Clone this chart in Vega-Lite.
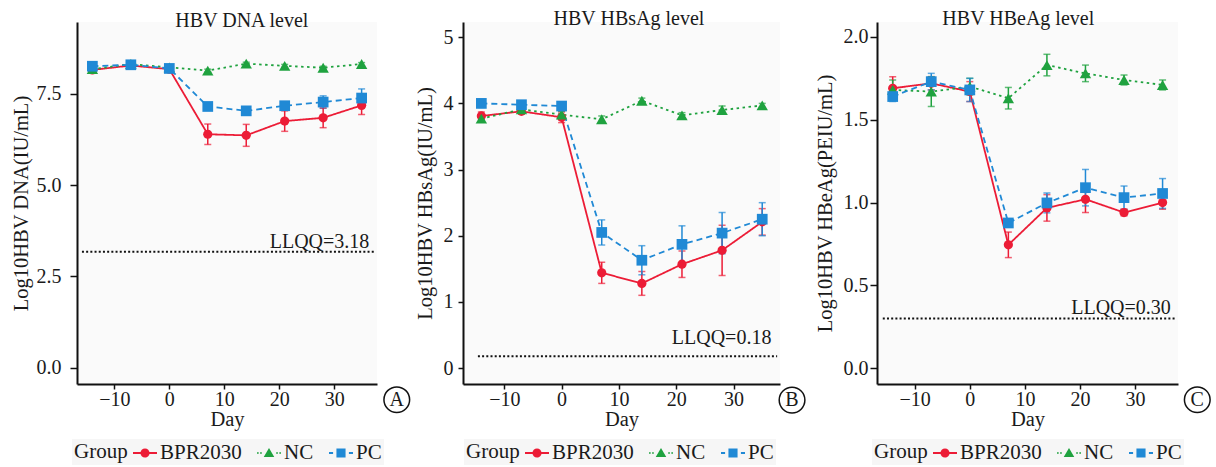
{
  "$schema": "https://vega.github.io/schema/vega-lite/v6.json",
  "padding": {"left": 11, "top": 9, "right": 4, "bottom": 2},
  "background": "white",
  "datasets": {
    "dna": [
      {"Group": "BPR2030", "day": -14, "value": 8.15, "err": 0.06},
      {"Group": "BPR2030", "day": -7, "value": 8.27, "err": 0.05},
      {"Group": "BPR2030", "day": 0, "value": 8.17, "err": 0.06},
      {"Group": "BPR2030", "day": 7, "value": 6.39, "err": 0.28},
      {"Group": "BPR2030", "day": 14, "value": 6.36, "err": 0.3},
      {"Group": "BPR2030", "day": 21, "value": 6.75, "err": 0.28},
      {"Group": "BPR2030", "day": 28, "value": 6.84, "err": 0.27},
      {"Group": "BPR2030", "day": 35, "value": 7.18, "err": 0.25},
      {"Group": "NC", "day": -14, "value": 8.17, "err": 0.05},
      {"Group": "NC", "day": -7, "value": 8.31, "err": 0.05},
      {"Group": "NC", "day": 0, "value": 8.22, "err": 0.05},
      {"Group": "NC", "day": 7, "value": 8.13, "err": 0.04},
      {"Group": "NC", "day": 14, "value": 8.32, "err": 0.04},
      {"Group": "NC", "day": 21, "value": 8.26, "err": 0.04},
      {"Group": "NC", "day": 28, "value": 8.21, "err": 0.04},
      {"Group": "NC", "day": 35, "value": 8.31, "err": 0.04},
      {"Group": "PC", "day": -14, "value": 8.25, "err": 0.06},
      {"Group": "PC", "day": -7, "value": 8.29, "err": 0.05},
      {"Group": "PC", "day": 0, "value": 8.19, "err": 0.06},
      {"Group": "PC", "day": 7, "value": 7.15, "err": 0.05},
      {"Group": "PC", "day": 14, "value": 7.03, "err": 0.05},
      {"Group": "PC", "day": 21, "value": 7.17, "err": 0.06},
      {"Group": "PC", "day": 28, "value": 7.27, "err": 0.17},
      {"Group": "PC", "day": 35, "value": 7.38, "err": 0.25}
    ],
    "hbsag": [
      {"Group": "BPR2030", "day": -14, "value": 3.81, "err": 0.06},
      {"Group": "BPR2030", "day": -7, "value": 3.88, "err": 0.04},
      {"Group": "BPR2030", "day": 0, "value": 3.79, "err": 0.08},
      {"Group": "BPR2030", "day": 7, "value": 1.44, "err": 0.16},
      {"Group": "BPR2030", "day": 14, "value": 1.28, "err": 0.18},
      {"Group": "BPR2030", "day": 21, "value": 1.57, "err": 0.2},
      {"Group": "BPR2030", "day": 28, "value": 1.78, "err": 0.38},
      {"Group": "BPR2030", "day": 35, "value": 2.21, "err": 0.2},
      {"Group": "NC", "day": -14, "value": 3.77, "err": 0.05},
      {"Group": "NC", "day": -7, "value": 3.91, "err": 0.04},
      {"Group": "NC", "day": 0, "value": 3.83, "err": 0.05},
      {"Group": "NC", "day": 7, "value": 3.76, "err": 0.05},
      {"Group": "NC", "day": 14, "value": 4.04, "err": 0.04},
      {"Group": "NC", "day": 21, "value": 3.82, "err": 0.04},
      {"Group": "NC", "day": 28, "value": 3.9, "err": 0.06},
      {"Group": "NC", "day": 35, "value": 3.97, "err": 0.03},
      {"Group": "PC", "day": -14, "value": 4.0, "err": 0.06},
      {"Group": "PC", "day": -7, "value": 3.98, "err": 0.04},
      {"Group": "PC", "day": 0, "value": 3.96, "err": 0.05},
      {"Group": "PC", "day": 7, "value": 2.05, "err": 0.19},
      {"Group": "PC", "day": 14, "value": 1.63, "err": 0.22},
      {"Group": "PC", "day": 21, "value": 1.87, "err": 0.28},
      {"Group": "PC", "day": 28, "value": 2.04, "err": 0.31},
      {"Group": "PC", "day": 35, "value": 2.25, "err": 0.25}
    ],
    "hbeag": [
      {"Group": "BPR2030", "day": -14, "value": 1.69, "err": 0.07},
      {"Group": "BPR2030", "day": -7, "value": 1.72, "err": 0.04},
      {"Group": "BPR2030", "day": 0, "value": 1.67, "err": 0.06},
      {"Group": "BPR2030", "day": 7, "value": 0.745, "err": 0.077},
      {"Group": "BPR2030", "day": 14, "value": 0.968, "err": 0.08},
      {"Group": "BPR2030", "day": 21, "value": 1.02, "err": 0.08},
      {"Group": "BPR2030", "day": 28, "value": 0.94, "err": 0.02},
      {"Group": "BPR2030", "day": 35, "value": 1.0, "err": 0.04},
      {"Group": "NC", "day": -14, "value": 1.68, "err": 0.06},
      {"Group": "NC", "day": -7, "value": 1.67, "err": 0.09},
      {"Group": "NC", "day": 0, "value": 1.7, "err": 0.05},
      {"Group": "NC", "day": 7, "value": 1.63, "err": 0.065},
      {"Group": "NC", "day": 14, "value": 1.83, "err": 0.065},
      {"Group": "NC", "day": 21, "value": 1.78, "err": 0.05},
      {"Group": "NC", "day": 28, "value": 1.74, "err": 0.03},
      {"Group": "NC", "day": 35, "value": 1.71, "err": 0.03},
      {"Group": "PC", "day": -14, "value": 1.64, "err": 0.03},
      {"Group": "PC", "day": -7, "value": 1.73, "err": 0.05},
      {"Group": "PC", "day": 0, "value": 1.68, "err": 0.07},
      {"Group": "PC", "day": 7, "value": 0.877, "err": 0.02},
      {"Group": "PC", "day": 14, "value": 0.998, "err": 0.06},
      {"Group": "PC", "day": 21, "value": 1.09, "err": 0.11},
      {"Group": "PC", "day": 28, "value": 1.03, "err": 0.07},
      {"Group": "PC", "day": 35, "value": 1.055, "err": 0.09}
    ]
  },
  "bounds": "flush",
  "spacing": 86,
  "hconcat": [
    {
      "width": 300, "height": 362,
      "resolve": {"scale": {"shape": "independent", "fill": "independent"}},
      "layer": [
        {"data": {"name": "dna"}, "mark": {"type": "line", "strokeWidth": 1.8},
         "encoding": {
           "x": {"field": "day", "type": "quantitative", "title": "Day", "scale": {"domain": [-16.8, 37.8], "nice": false, "zero": false}, "axis": {"values": [-10, 0, 10, 20, 30]}},
           "y": {"field": "value", "type": "quantitative", "title": "Log10HBV DNA(IU/mL)", "scale": {"domain": [-0.44, 9.46], "nice": false, "zero": false}, "axis": {"values": [0, 2.5, 5, 7.5], "format": ".1f", "titleX": -55.5, "titleY": 181, "tickSize": 7, "labelPadding": 9}},
           "color": {"field": "Group", "type": "nominal", "scale": {"domain": ["BPR2030", "NC", "PC"], "range": ["#EC1C36", "#1FA23F", "#2089D5"]}, "legend": null},
           "strokeDash": {"field": "Group", "type": "nominal", "scale": {"domain": ["BPR2030", "NC", "PC"], "range": [[1, 0], [2.5, 3.5], [6, 4]]}, "legend": null}
         }},
        {"data": {"name": "dna"}, "mark": {"type": "errorbar", "ticks": {"size": 7}, "thickness": 1.5},
         "encoding": {
           "x": {"field": "day", "type": "quantitative", "title": "Day"},
           "y": {"field": "value", "type": "quantitative", "title": "Log10HBV DNA(IU/mL)"},
           "yError": {"field": "err"},
           "color": {"field": "Group", "type": "nominal", "legend": null}
         }},
        {"data": {"name": "dna"}, "mark": {"type": "point", "filled": true, "opacity": 1},
         "encoding": {
           "x": {"field": "day", "type": "quantitative"},
           "y": {"field": "value", "type": "quantitative"},
           "color": {"field": "Group", "type": "nominal", "legend": null},
           "shape": {"field": "Group", "type": "nominal", "scale": {"domain": ["BPR2030", "NC", "PC"], "range": ["circle", "triangle-up", "square"]}, "legend": null},
           "size": {"field": "Group", "type": "nominal", "scale": {"type": "ordinal", "domain": ["BPR2030", "NC", "PC"], "range": [85, 130, 115]}, "legend": null}
         }},
        {"data": {"name": "dna"}, "mark": {"type": "point", "filled": true, "opacity": 0},
         "encoding": {
           "x": {"field": "day", "type": "quantitative"},
           "y": {"field": "value", "type": "quantitative"},
           "fill": {"field": "Group", "type": "nominal", "scale": {"domain": ["BPR2030", "NC", "PC"], "range": ["#EC1C36", "#1FA23F", "#2089D5"]}, "legend": {"title": "Group", "legendX": -5, "legendY": 417}},
           "shape": {"field": "Group", "type": "nominal", "scale": {"domain": ["BPR2030", "NC", "PC"], "range": ["M-1,-0.08H1V0.08H-1Z M0.38,0A0.38,0.38,0,1,1,-0.38,0A0.38,0.38,0,1,1,0.38,0Z", "M-1,-0.07H-0.86V0.07H-1Z M-0.74,-0.07H-0.6V0.07H-0.74Z M0.6,-0.07H0.74V0.07H0.6Z M0.86,-0.07H1V0.07H0.86Z M0,-0.42L0.44,0.34L-0.44,0.34Z", "M-1,-0.08H-0.66V0.08H-1Z M0.66,-0.08H1V0.08H0.66Z M-0.38,-0.38H0.38V0.38H-0.38Z"]}, "legend": {"title": "Group", "legendX": -5, "legendY": 417}}
         }},
        {"data": {"values": [{"lx": -15.9, "lx2": 37.4, "ly": 3.18}]}, "mark": {"type": "rule", "strokeDash": [2, 2.2], "strokeWidth": 2, "color": "#111111"},
         "encoding": {"x": {"field": "lx", "type": "quantitative"}, "x2": {"field": "lx2"}, "y": {"field": "ly", "type": "quantitative"}}},
        {"data": {"values": [{"tx": 36.4, "ty": 3.18, "label": "LLQQ=3.18"}]}, "mark": {"type": "text", "align": "right", "baseline": "alphabetic", "dy": -4, "fontSize": 20, "font": "Liberation Serif", "color": "#1a1a1a"},
         "encoding": {"x": {"field": "tx", "type": "quantitative"}, "y": {"field": "ty", "type": "quantitative"}, "text": {"field": "label"}}},
        {"data": {"values": [{"tx": 13.2, "ty": 9.33, "label": "HBV DNA level"}]}, "mark": {"type": "text", "align": "center", "baseline": "alphabetic", "fontSize": 20, "font": "Liberation Serif", "color": "#1a1a1a"},
         "encoding": {"x": {"field": "tx", "type": "quantitative"}, "y": {"field": "ty", "type": "quantitative"}, "text": {"field": "label"}}},
        {"data": {"values": [{"tx": 41.4, "ty": -0.87, "label": "A"}]}, "mark": {"type": "point", "shape": "circle", "size": 660, "filled": false, "stroke": "#111111", "strokeWidth": 1.5, "opacity": 1},
         "encoding": {"x": {"field": "tx", "type": "quantitative"}, "y": {"field": "ty", "type": "quantitative"}}},
        {"data": {"values": [{"tx": 41.4, "ty": -0.87, "label": "A"}]}, "mark": {"type": "text", "align": "center", "baseline": "middle", "fontSize": 20, "font": "Liberation Serif", "color": "#1a1a1a"},
         "encoding": {"x": {"field": "tx", "type": "quantitative"}, "y": {"field": "ty", "type": "quantitative"}, "text": {"field": "label"}}}
      ]
    },
    {
      "bounds": "flush",
      "spacing": 97,
      "hconcat": [
        {
          "width": 317, "height": 362,
          "resolve": {"scale": {"shape": "independent", "fill": "independent"}},
          "layer": [
            {"data": {"name": "hbsag"}, "mark": {"type": "line", "strokeWidth": 1.8},
             "encoding": {
               "x": {"field": "day", "type": "quantitative", "title": "Day", "scale": {"domain": [-17.2, 38.1], "nice": false, "zero": false}, "axis": {"values": [-10, 0, 10, 20, 30]}},
               "y": {"field": "value", "type": "quantitative", "title": "Log10HBV HBsAg(IU/mL)", "scale": {"domain": [-0.24, 5.23], "nice": false, "zero": false}, "axis": {"values": [0, 1, 2, 3, 4, 5], "format": "d", "titleX": -37.5, "titleY": 181, "tickSize": 5, "labelPadding": 5}},
               "color": {"field": "Group", "type": "nominal", "scale": {"domain": ["BPR2030", "NC", "PC"], "range": ["#EC1C36", "#1FA23F", "#2089D5"]}, "legend": null},
               "strokeDash": {"field": "Group", "type": "nominal", "scale": {"domain": ["BPR2030", "NC", "PC"], "range": [[1, 0], [2.5, 3.5], [6, 4]]}, "legend": null}
             }},
            {"data": {"name": "hbsag"}, "mark": {"type": "errorbar", "ticks": {"size": 7}, "thickness": 1.5},
             "encoding": {
               "x": {"field": "day", "type": "quantitative", "title": "Day"},
               "y": {"field": "value", "type": "quantitative", "title": "Log10HBV HBsAg(IU/mL)"},
               "yError": {"field": "err"},
               "color": {"field": "Group", "type": "nominal", "legend": null}
             }},
            {"data": {"name": "hbsag"}, "mark": {"type": "point", "filled": true, "opacity": 1},
             "encoding": {
               "x": {"field": "day", "type": "quantitative"},
               "y": {"field": "value", "type": "quantitative"},
               "color": {"field": "Group", "type": "nominal", "legend": null},
               "shape": {"field": "Group", "type": "nominal", "scale": {"domain": ["BPR2030", "NC", "PC"], "range": ["circle", "triangle-up", "square"]}, "legend": null},
               "size": {"field": "Group", "type": "nominal", "scale": {"type": "ordinal", "domain": ["BPR2030", "NC", "PC"], "range": [85, 130, 115]}, "legend": null}
             }},
            {"data": {"name": "hbsag"}, "mark": {"type": "point", "filled": true, "opacity": 0},
             "encoding": {
               "x": {"field": "day", "type": "quantitative"},
               "y": {"field": "value", "type": "quantitative"},
               "fill": {"field": "Group", "type": "nominal", "scale": {"domain": ["BPR2030", "NC", "PC"], "range": ["#EC1C36", "#1FA23F", "#2089D5"]}, "legend": {"title": "Group", "legendX": 1, "legendY": 417}},
               "shape": {"field": "Group", "type": "nominal", "scale": {"domain": ["BPR2030", "NC", "PC"], "range": ["M-1,-0.08H1V0.08H-1Z M0.38,0A0.38,0.38,0,1,1,-0.38,0A0.38,0.38,0,1,1,0.38,0Z", "M-1,-0.07H-0.86V0.07H-1Z M-0.74,-0.07H-0.6V0.07H-0.74Z M0.6,-0.07H0.74V0.07H0.6Z M0.86,-0.07H1V0.07H0.86Z M0,-0.42L0.44,0.34L-0.44,0.34Z", "M-1,-0.08H-0.66V0.08H-1Z M0.66,-0.08H1V0.08H0.66Z M-0.38,-0.38H0.38V0.38H-0.38Z"]}, "legend": {"title": "Group", "legendX": 1, "legendY": 417}}
             }},
            {"data": {"values": [{"lx": -14.6, "lx2": 37.6, "ly": 0.18}]}, "mark": {"type": "rule", "strokeDash": [2, 2.2], "strokeWidth": 2, "color": "#111111"},
             "encoding": {"x": {"field": "lx", "type": "quantitative"}, "x2": {"field": "lx2"}, "y": {"field": "ly", "type": "quantitative"}}},
            {"data": {"values": [{"tx": 36.6, "ty": 0.18, "label": "LLQQ=0.18"}]}, "mark": {"type": "text", "align": "right", "baseline": "alphabetic", "dy": -12, "fontSize": 20, "font": "Liberation Serif", "color": "#1a1a1a"},
             "encoding": {"x": {"field": "tx", "type": "quantitative"}, "y": {"field": "ty", "type": "quantitative"}, "text": {"field": "label"}}},
            {"data": {"values": [{"tx": 11.75, "ty": 5.18, "label": "HBV HBsAg level"}]}, "mark": {"type": "text", "align": "center", "baseline": "alphabetic", "fontSize": 20, "font": "Liberation Serif", "color": "#1a1a1a"},
             "encoding": {"x": {"field": "tx", "type": "quantitative"}, "y": {"field": "ty", "type": "quantitative"}, "text": {"field": "label"}}},
            {"data": {"values": [{"tx": 40.2, "ty": -0.483, "label": "B"}]}, "mark": {"type": "point", "shape": "circle", "size": 660, "filled": false, "stroke": "#111111", "strokeWidth": 1.5, "opacity": 1},
             "encoding": {"x": {"field": "tx", "type": "quantitative"}, "y": {"field": "ty", "type": "quantitative"}}},
            {"data": {"values": [{"tx": 40.2, "ty": -0.483, "label": "B"}]}, "mark": {"type": "text", "align": "center", "baseline": "middle", "fontSize": 20, "font": "Liberation Serif", "color": "#1a1a1a"},
             "encoding": {"x": {"field": "tx", "type": "quantitative"}, "y": {"field": "ty", "type": "quantitative"}, "text": {"field": "label"}}}
          ]
        },
        {
          "width": 301, "height": 362,
          "resolve": {"scale": {"shape": "independent", "fill": "independent"}},
          "layer": [
            {"data": {"name": "hbeag"}, "mark": {"type": "line", "strokeWidth": 1.8},
             "encoding": {
               "x": {"field": "day", "type": "quantitative", "title": "Day", "scale": {"domain": [-16.85, 37.8], "nice": false, "zero": false}, "axis": {"values": [-10, 0, 10, 20, 30]}},
               "y": {"field": "value", "type": "quantitative", "title": "Log10HBV HBeAg(PEIU/mL)", "scale": {"domain": [-0.095, 2.09], "nice": false, "zero": false}, "axis": {"values": [0, 0.5, 1, 1.5, 2], "format": ".1f", "titleX": -52, "titleY": 181, "tickSize": 7, "labelPadding": 2}},
               "color": {"field": "Group", "type": "nominal", "scale": {"domain": ["BPR2030", "NC", "PC"], "range": ["#EC1C36", "#1FA23F", "#2089D5"]}, "legend": null},
               "strokeDash": {"field": "Group", "type": "nominal", "scale": {"domain": ["BPR2030", "NC", "PC"], "range": [[1, 0], [2.5, 3.5], [6, 4]]}, "legend": null}
             }},
            {"data": {"name": "hbeag"}, "mark": {"type": "errorbar", "ticks": {"size": 7}, "thickness": 1.5},
             "encoding": {
               "x": {"field": "day", "type": "quantitative", "title": "Day"},
               "y": {"field": "value", "type": "quantitative", "title": "Log10HBV HBeAg(PEIU/mL)"},
               "yError": {"field": "err"},
               "color": {"field": "Group", "type": "nominal", "legend": null}
             }},
            {"data": {"name": "hbeag"}, "mark": {"type": "point", "filled": true, "opacity": 1},
             "encoding": {
               "x": {"field": "day", "type": "quantitative"},
               "y": {"field": "value", "type": "quantitative"},
               "color": {"field": "Group", "type": "nominal", "legend": null},
               "shape": {"field": "Group", "type": "nominal", "scale": {"domain": ["BPR2030", "NC", "PC"], "range": ["circle", "triangle-up", "square"]}, "legend": null},
               "size": {"field": "Group", "type": "nominal", "scale": {"type": "ordinal", "domain": ["BPR2030", "NC", "PC"], "range": [85, 130, 115]}, "legend": null}
             }},
            {"data": {"name": "hbeag"}, "mark": {"type": "point", "filled": true, "opacity": 0},
             "encoding": {
               "x": {"field": "day", "type": "quantitative"},
               "y": {"field": "value", "type": "quantitative"},
               "fill": {"field": "Group", "type": "nominal", "scale": {"domain": ["BPR2030", "NC", "PC"], "range": ["#EC1C36", "#1FA23F", "#2089D5"]}, "legend": {"title": "Group", "legendX": -5, "legendY": 417}},
               "shape": {"field": "Group", "type": "nominal", "scale": {"domain": ["BPR2030", "NC", "PC"], "range": ["M-1,-0.08H1V0.08H-1Z M0.38,0A0.38,0.38,0,1,1,-0.38,0A0.38,0.38,0,1,1,0.38,0Z", "M-1,-0.07H-0.86V0.07H-1Z M-0.74,-0.07H-0.6V0.07H-0.74Z M0.6,-0.07H0.74V0.07H0.6Z M0.86,-0.07H1V0.07H0.86Z M0,-0.42L0.44,0.34L-0.44,0.34Z", "M-1,-0.08H-0.66V0.08H-1Z M0.66,-0.08H1V0.08H0.66Z M-0.38,-0.38H0.38V0.38H-0.38Z"]}, "legend": {"title": "Group", "legendX": -5, "legendY": 417}}
             }},
            {"data": {"values": [{"lx": -15.8, "lx2": 37.3, "ly": 0.3}]}, "mark": {"type": "rule", "strokeDash": [2, 2.2], "strokeWidth": 2, "color": "#111111"},
             "encoding": {"x": {"field": "lx", "type": "quantitative"}, "x2": {"field": "lx2"}, "y": {"field": "ly", "type": "quantitative"}}},
            {"data": {"values": [{"tx": 36.5, "ty": 0.3, "label": "LLQQ=0.30"}]}, "mark": {"type": "text", "align": "right", "baseline": "alphabetic", "dy": -5, "fontSize": 20, "font": "Liberation Serif", "color": "#1a1a1a"},
             "encoding": {"x": {"field": "tx", "type": "quantitative"}, "y": {"field": "ty", "type": "quantitative"}, "text": {"field": "label"}}},
            {"data": {"values": [{"tx": 8.8, "ty": 2.07, "label": "HBV HBeAg level"}]}, "mark": {"type": "text", "align": "center", "baseline": "alphabetic", "fontSize": 20, "font": "Liberation Serif", "color": "#1a1a1a"},
             "encoding": {"x": {"field": "tx", "type": "quantitative"}, "y": {"field": "ty", "type": "quantitative"}, "text": {"field": "label"}}},
            {"data": {"values": [{"tx": 41.3, "ty": -0.19, "label": "C"}]}, "mark": {"type": "point", "shape": "circle", "size": 660, "filled": false, "stroke": "#111111", "strokeWidth": 1.5, "opacity": 1},
             "encoding": {"x": {"field": "tx", "type": "quantitative"}, "y": {"field": "ty", "type": "quantitative"}}},
            {"data": {"values": [{"tx": 41.3, "ty": -0.19, "label": "C"}]}, "mark": {"type": "text", "align": "center", "baseline": "middle", "fontSize": 20, "font": "Liberation Serif", "color": "#1a1a1a"},
             "encoding": {"x": {"field": "tx", "type": "quantitative"}, "y": {"field": "ty", "type": "quantitative"}, "text": {"field": "label"}}}
          ]
        }
      ]
    }
  ],
  "config": {
    "font": "Liberation Serif",
    "view": {"stroke": null, "fill": "#fafafa"},
    "axis": {"grid": false, "domainColor": "#111111", "domainWidth": 2, "tickColor": "#111111", "tickWidth": 1.5, "tickSize": 6, "labelFont": "Liberation Serif", "labelFontSize": 20, "labelColor": "#1a1a1a", "titleFont": "Liberation Serif", "titleFontSize": 20.5, "titleFontWeight": "normal", "titleColor": "#1a1a1a"},
    "axisX": {"labelPadding": 0, "titlePadding": 0, "tickSize": 5},
    "axisY": {"titleBaseline": "middle", "titleAlign": "center"},
    "legend": {"orient": "none", "direction": "horizontal", "titleOrient": "left", "titleAnchor": "middle", "titleBaseline": "middle", "titleFont": "Liberation Serif", "titleFontSize": 21, "titleFontWeight": "normal", "titleColor": "#1a1a1a", "titlePadding": 5, "labelFont": "Liberation Serif", "labelFontSize": 21, "labelColor": "#1a1a1a", "symbolSize": 576, "symbolStrokeWidth": 0, "symbolOpacity": 1, "columnPadding": 15, "labelOffset": 3, "fillColor": "#f6f6f6", "padding": 2}
  }
}
